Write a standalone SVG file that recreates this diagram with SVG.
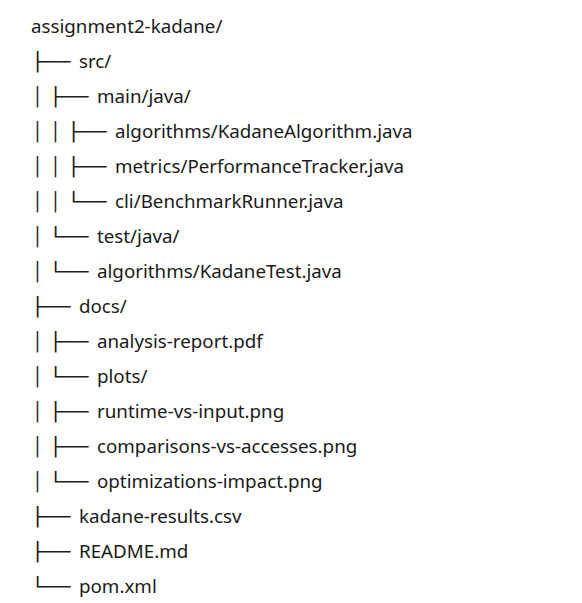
<svg xmlns="http://www.w3.org/2000/svg" width="582" height="603" viewBox="0 0 582 603">
<style>
.b{font-family:"DejaVu Sans",sans-serif;font-size:18px;fill:#1e1e1e}
.n{font-family:"Noto Sans","Open Sans",sans-serif;font-size:18.75px;fill:#1a1a1a}
</style>
<rect width="582" height="603" fill="#ffffff"/>
<g id="connectors">
<text class="b" x="30.9" y="68" textLength="39.6" lengthAdjust="spacingAndGlyphs">├──</text>
<text class="b" x="32.1" y="103">│</text>
<text class="b" x="48.9" y="103" textLength="39.6" lengthAdjust="spacingAndGlyphs">├──</text>
<text class="b" x="32.1" y="138">│</text>
<text class="b" x="50.1" y="138">│</text>
<text class="b" x="66.9" y="138" textLength="39.6" lengthAdjust="spacingAndGlyphs">├──</text>
<text class="b" x="32.1" y="173">│</text>
<text class="b" x="50.1" y="173">│</text>
<text class="b" x="66.9" y="173" textLength="39.6" lengthAdjust="spacingAndGlyphs">├──</text>
<text class="b" x="32.1" y="208">│</text>
<text class="b" x="50.1" y="208">│</text>
<text class="b" x="66.9" y="208" textLength="39.6" lengthAdjust="spacingAndGlyphs">└──</text>
<text class="b" x="32.1" y="243">│</text>
<text class="b" x="48.9" y="243" textLength="39.6" lengthAdjust="spacingAndGlyphs">└──</text>
<text class="b" x="32.1" y="278">│</text>
<text class="b" x="48.9" y="278" textLength="39.6" lengthAdjust="spacingAndGlyphs">└──</text>
<text class="b" x="30.9" y="313" textLength="39.6" lengthAdjust="spacingAndGlyphs">├──</text>
<text class="b" x="32.1" y="348">│</text>
<text class="b" x="48.9" y="348" textLength="39.6" lengthAdjust="spacingAndGlyphs">├──</text>
<text class="b" x="32.1" y="383">│</text>
<text class="b" x="48.9" y="383" textLength="39.6" lengthAdjust="spacingAndGlyphs">└──</text>
<text class="b" x="32.1" y="418">│</text>
<text class="b" x="48.9" y="418" textLength="39.6" lengthAdjust="spacingAndGlyphs">├──</text>
<text class="b" x="32.1" y="453">│</text>
<text class="b" x="48.9" y="453" textLength="39.6" lengthAdjust="spacingAndGlyphs">├──</text>
<text class="b" x="32.1" y="488">│</text>
<text class="b" x="48.9" y="488" textLength="39.6" lengthAdjust="spacingAndGlyphs">└──</text>
<text class="b" x="30.9" y="523" textLength="39.6" lengthAdjust="spacingAndGlyphs">├──</text>
<text class="b" x="30.9" y="558" textLength="39.6" lengthAdjust="spacingAndGlyphs">├──</text>
<text class="b" x="30.9" y="593" textLength="39.6" lengthAdjust="spacingAndGlyphs">└──</text>
</g>
<g id="root"><text class="n" x="31" y="33">assignment2-kadane/</text></g>
<g id="src"><text class="n" x="79" y="68">src/</text></g>
<g id="main-java"><text class="n" x="97" y="103">main/java/</text></g>
<g id="kadane-algorithm"><text class="n" x="115" y="138">algorithms/KadaneAlgorithm.java</text></g>
<g id="performance-tracker"><text class="n" x="115" y="173">metrics/PerformanceTracker.java</text></g>
<g id="benchmark-runner"><text class="n" x="115" y="208">cli/BenchmarkRunner.java</text></g>
<g id="test-java"><text class="n" x="97" y="243">test/java/</text></g>
<g id="kadane-test"><text class="n" x="97" y="278">algorithms/KadaneTest.java</text></g>
<g id="docs"><text class="n" x="79" y="313">docs/</text></g>
<g id="analysis-report"><text class="n" x="97" y="348">analysis-report.pdf</text></g>
<g id="plots"><text class="n" x="97" y="383">plots/</text></g>
<g id="runtime-vs-input"><text class="n" x="97" y="418">runtime-vs-input.png</text></g>
<g id="comparisons-vs-accesses"><text class="n" x="97" y="453">comparisons-vs-accesses.png</text></g>
<g id="optimizations-impact"><text class="n" x="97" y="488">optimizations-impact.png</text></g>
<g id="kadane-results"><text class="n" x="79" y="523">kadane-results.csv</text></g>
<g id="readme"><text class="n" x="79" y="558">README.md</text></g>
<g id="pom"><text class="n" x="79" y="593">pom.xml</text></g>
</svg>
